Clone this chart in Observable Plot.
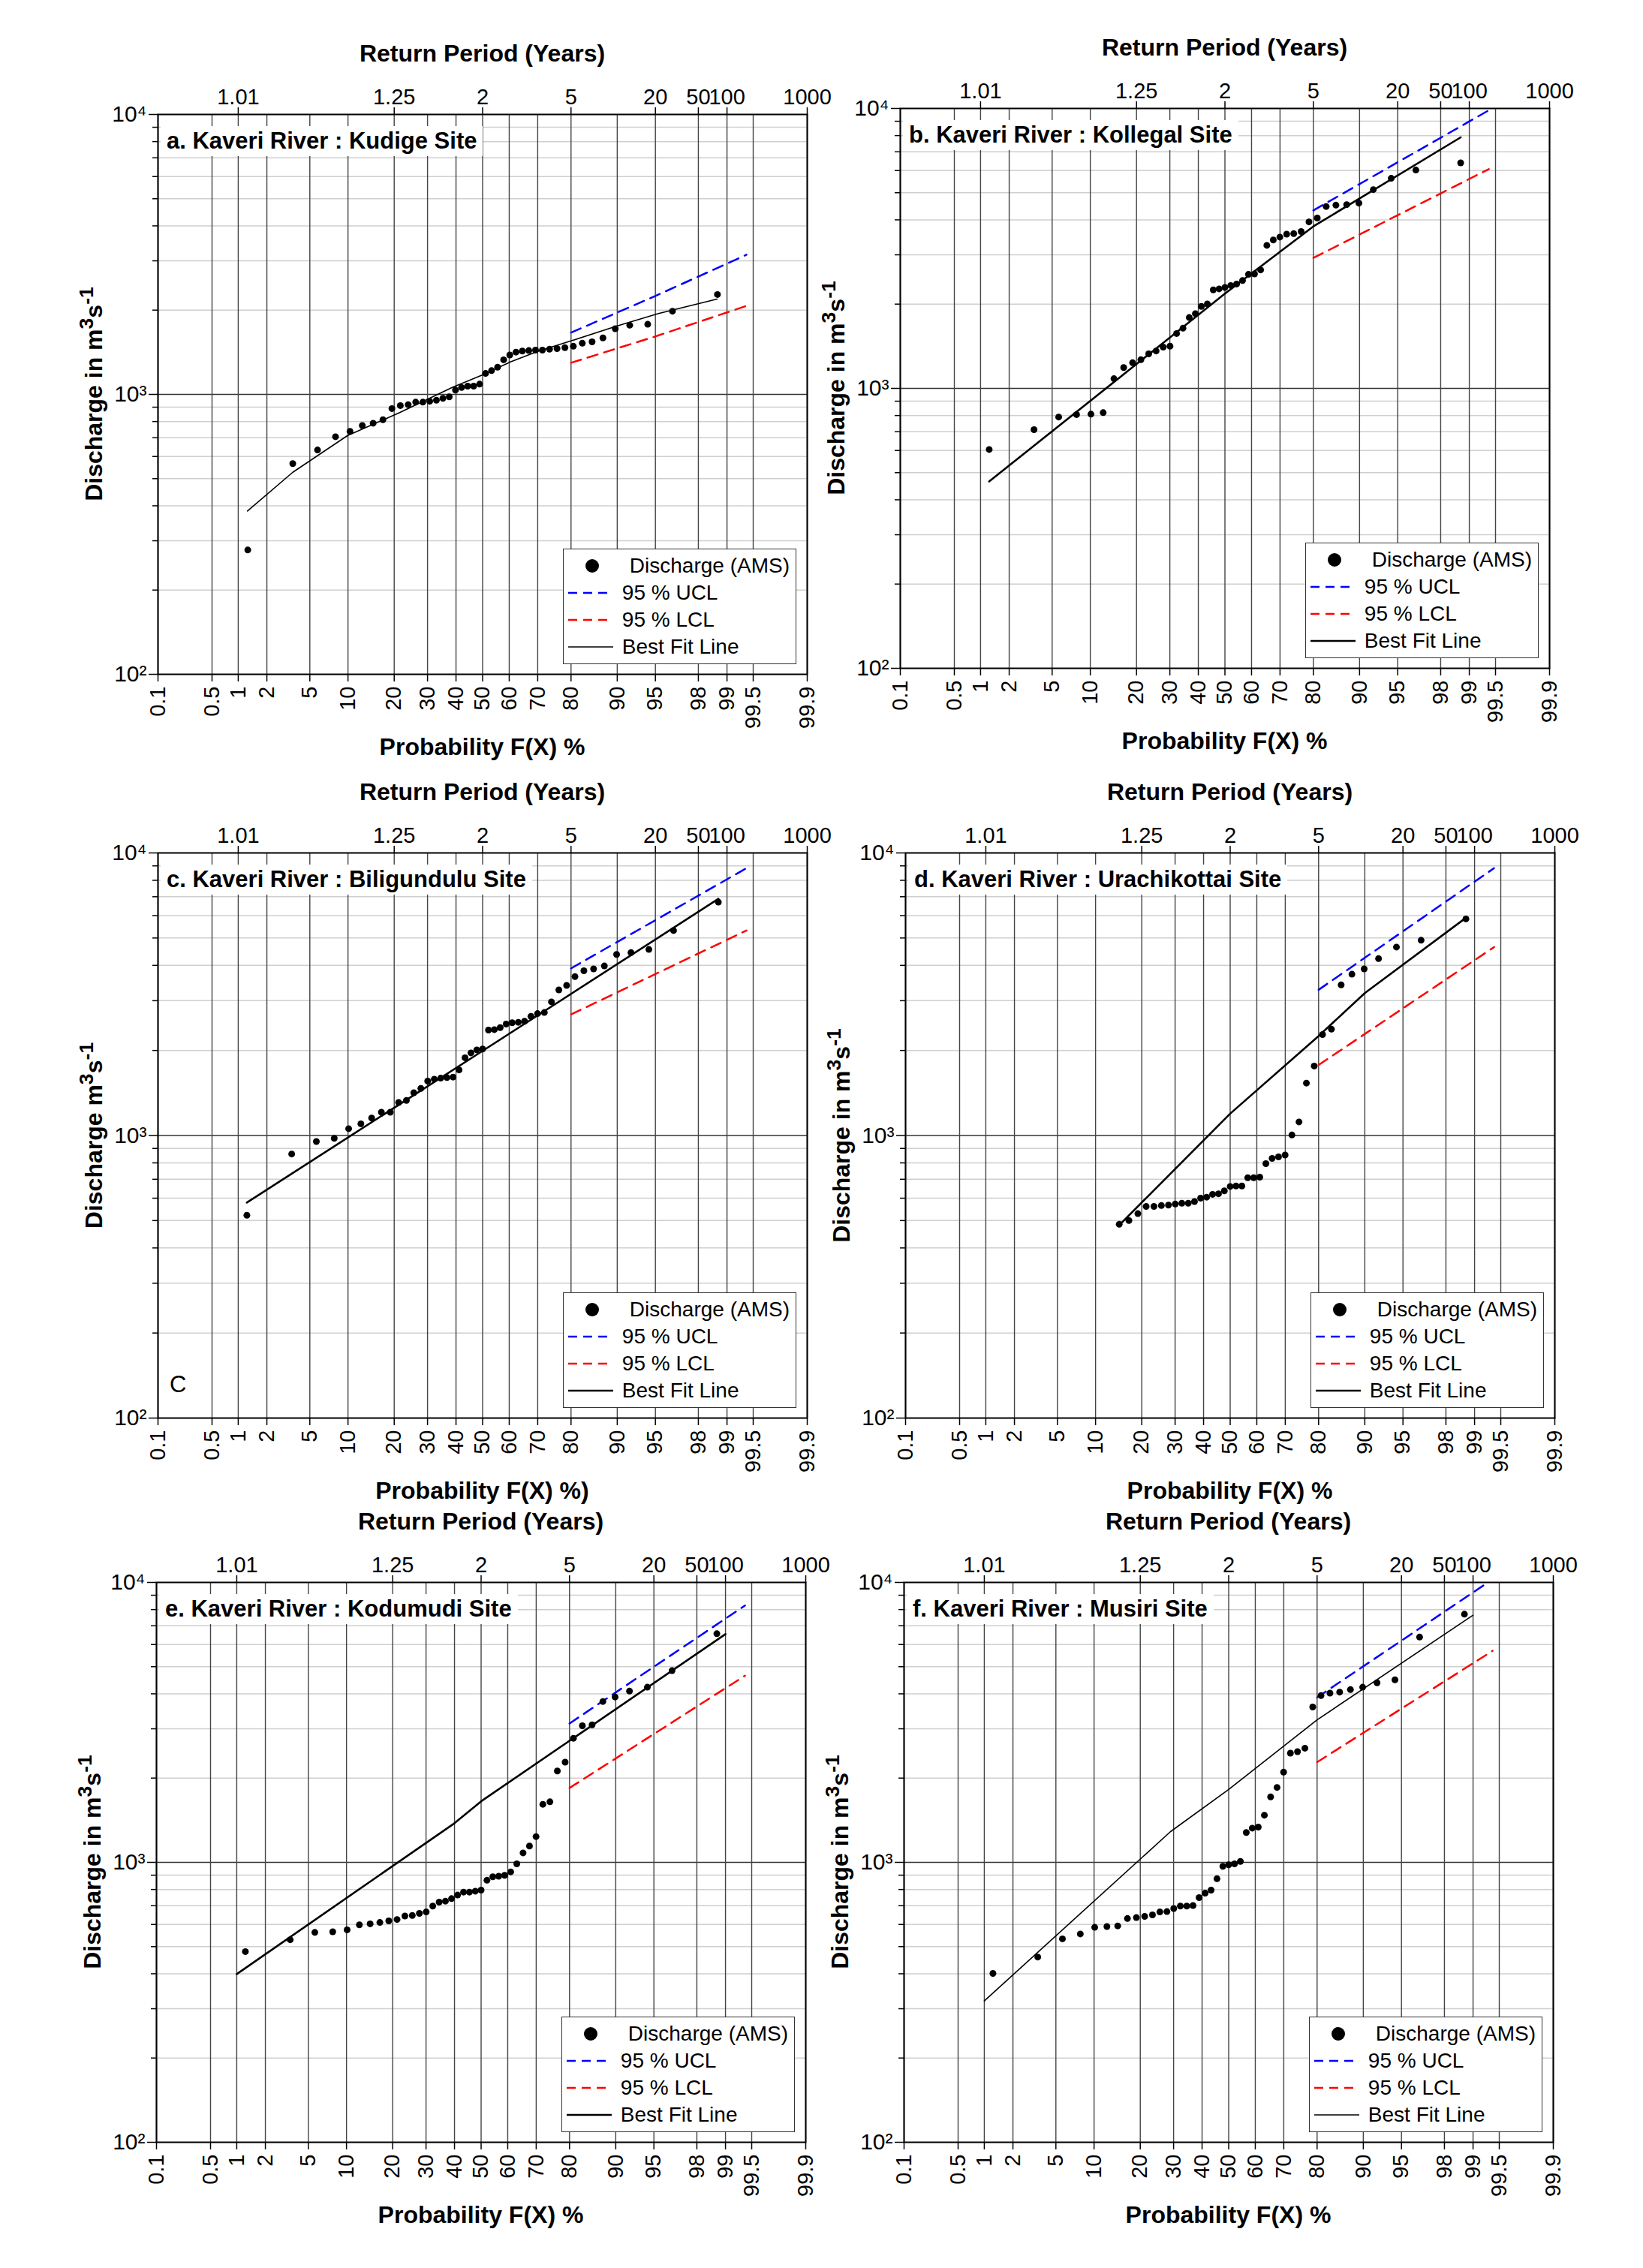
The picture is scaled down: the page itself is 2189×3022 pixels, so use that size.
<!DOCTYPE html>
<html><head><meta charset="utf-8">
<script src="https://cdn.jsdelivr.net/npm/d3@7"></script>
<script src="https://cdn.jsdelivr.net/npm/@observablehq/plot@0.6"></script>
<style>
body{margin:0;background:#fff;font-family:"Liberation Sans",Arial,sans-serif;}
#page{position:relative;width:2189px;height:3022px;overflow:hidden;background:#fff;}
.abs{position:absolute;white-space:nowrap;}
.ttl{font-weight:bold;font-size:32px;}
.ptitle{font-weight:bold;font-size:31px;background:#fff;padding:2px 8px;}
.legend{position:absolute;background:#fff;border:1.5px solid #333;font-size:28px;padding:4px 8px 4px 4px;white-space:nowrap;}
.legend .row{display:flex;align-items:center;height:36px;}
.legend svg{margin-right:10px;}
svg{overflow:visible;}
</style></head><body><div id="page"></div>
<script>
// ---------- data ----------
const probTicks=[0.1,0.5,1,2,5,10,20,30,40,50,60,70,80,90,95,98,99,99.5,99.9];
const probLabels=["0.1","0.5","1","2","5","10","20","30","40","50","60","70","80","90","95","98","99","99.5","99.9"];
const rpProb=[1,20,50,80,95,98,99,99.9];
const rpLabels=["1.01","1.25","2","5","20","50","100","1000"];
const yMajor=[100,1000,10000];
const yMajorLabels=["10²","10³","10⁴"];
const yMinor=[200,300,400,500,600,700,800,900,2000,3000,4000,5000,6000,7000,8000,9000];

const kudigeQ=[278,566,633,706,738,774,789,812,890,912,919,938,938,945,953,968,980,1036,1058,1070,1070,1088,1188,1216,1251,1329,1383,1416,1428,1434,1439,1439,1451,1457,1469,1486,1523,1541,1591,1716,1766,1780,1982,2274];
const kudigeFitP=[1.26,3.54,9.9,21.6,38.9,50,60.6,69.8,80.1,89.8,95.3,98.72];
const kudigeFitQ=[383,527,712,862,1062,1174,1308,1422,1554,1751,1944,2191];
const kudigeUclP=[80,95,99.4], kudigeUclQ=[1662,2247,3154];
const kudigeLclP=[80,95,99.4], kudigeLclQ=[1297,1611,2071];

const kollegalQ=[605,712,790,806,809,819,1083,1187,1235,1266,1328,1360,1404,1415,1570,1640,1791,1849,1963,2002,2249,2267,2294,2331,2360,2427,2554,2564,2650,3243,3390,3471,3555,3570,3633,3933,4061,4463,4515,4533,4590,5130,5630,6025,6394];
const kollegalFitP=[1.24,50,80,98.76], kollegalFitQ=[465,2180,3790,7885];
const kollegalUclP=[80,99.45], kollegalUclQ=[4323,10000];
const kollegalLclP=[80,99.4], kollegalLclQ=[2925,6074];

const biliQ=[522,860,952,977,1057,1100,1153,1209,1209,1309,1330,1417,1468,1558,1583,1596,1603,1610,1706,1884,1961,2009,2023,2361,2370,2409,2479,2506,2516,2537,2640,2700,2725,2972,3276,3397,3652,3828,3888,3982,4372,4438,4554,5314,6696];
const biliFitP=[1.24,50,98.76], biliFitQ=[579,1993,6878];
const biliUclP=[80,99.4], biliUclQ=[3904,8835];
const biliLclP=[80,99.4], biliLclQ=[2682,5317];

const urachiQ=[485,500,529,561,561,565,567,572,576,576,584,600,605,619,622,637,660,663,663,709,709,712,795,830,840,853,1004,1117,1533,1762,2277,2378,3412,3722,3887,4226,4644,4908,5841];
const urachiFirstRank=7;
const urachiFitP=[14.4,50,80,90,98.76], urachiFitQ=[479,1195,2250,3190,5897];
const urachiUclP=[80,99.4], urachiUclQ=[3278,8835];
const urachiLclP=[80,99.4], urachiLclQ=[1776,4644];

const koduQ=[480,529,562,565,574,598,603,610,618,625,643,646,657,665,698,721,727,742,764,783,783,789,796,863,888,892,899,925,988,1081,1144,1236,1612,1645,2120,2280,2775,3075,3100,3755,3897,4089,4225,4838,6557];
const koduFitP=[1,40,50,80,99], koduFitQ=[399,1380,1652,2718,6537];
const koduUclP=[80,99.4], koduUclQ=[3134,8272];
const koduLclP=[80,99.4], koduLclQ=[1844,4643];

const musiriQ=[401,459,533,555,586,590,593,630,635,641,649,665,667,684,698,698,701,748,776,796,874,968,980,988,1008,1278,1325,1337,1474,1714,1852,2101,2455,2486,2557,3590,3942,4023,4057,4141,4225,4380,4489,6378,7700];
const musiriFitP=[1,29,50,80,99], musiriFitQ=[320,1288,1822,3228,7637];
const musiriUclP=[80,99.32], musiriUclQ=[3883,10000];
const musiriLclP=[80,99.4], musiriLclQ=[2280,5697];

// ---------- helpers ----------
function probit(p){
 const a=[-39.69683028665376,220.9460984245205,-275.9285104469687,138.3577518672690,-30.66479806614716,2.506628274631000];
 const b=[-54.47609879822406,161.5858368580409,-155.6989798598866,66.80131188771972,-13.28068155288572];
 const c=[-0.007784894002430293,-0.3223964580411365,-2.400758277161838,-2.549732539343734,4.374664141464968,2.938163982698783];
 const d=[0.007784695709041462,0.3224671290700398,2.445134137142996,3.754408661907416];
 const pl=0.02425; let q,r;
 if(p<pl){q=Math.sqrt(-2*Math.log(p));return (((((c[0]*q+c[1])*q+c[2])*q+c[3])*q+c[4])*q+c[5])/((((d[0]*q+d[1])*q+d[2])*q+d[3])*q+1);}
 if(p<=1-pl){q=p-0.5;r=q*q;return (((((a[0]*r+a[1])*r+a[2])*r+a[3])*r+a[4])*r+a[5])*q/(((((b[0]*r+b[1])*r+b[2])*r+b[3])*r+b[4])*r+1);}
 q=Math.sqrt(-2*Math.log(1-p));return -(((((c[0]*q+c[1])*q+c[2])*q+c[3])*q+c[4])*q+c[5])/((((d[0]*q+d[1])*q+d[2])*q+d[3])*q+1);
}
const z=p=>probit(p/100);
const probZ=probTicks.map(z), rpZ=rpProb.map(z);
const labFor=(zs,labs)=>v=>{let bi=0,bd=1e9;zs.forEach((q,i)=>{const dd=Math.abs(q-v);if(dd<bd){bd=dd;bi=i;}});return labs[bi];};
const pts=(Q,first=1,n=null)=>{const N=n||Q.length+first-1;return Q.map((q,i)=>({z:z(100*((i+first)-0.44)/(N+0.12)),q}));};
const ser=(P,Q)=>P.map((p,i)=>({z:z(p),q:Q[i]}));

const panels=[
 {fl:210,ft:152,H:746,title:"a. Kaveri River : Kudige Site",ylab:"Discharge in m<sup>3</sup>s<sup>-1</sup>",xlab:"Probability F(X) %",
  pts:pts(kudigeQ),fit:ser(kudigeFitP,kudigeFitQ),ucl:ser(kudigeUclP,kudigeUclQ),lcl:ser(kudigeLclP,kudigeLclQ),fw:1.6},
 {fl:1199,ft:144,H:746,title:"b. Kaveri River : Kollegal Site",ylab:"Discharge in m<sup>3</sup>s<sup>-1</sup>",xlab:"Probability F(X) %",
  pts:pts(kollegalQ),fit:ser(kollegalFitP,kollegalFitQ),ucl:ser(kollegalUclP,kollegalUclQ),lcl:ser(kollegalLclP,kollegalLclQ),fw:2.6},
 {fl:210,ft:1136,H:753,title:"c. Kaveri River : Biligundulu Site",ylab:"Discharge m<sup>3</sup>s<sup>-1</sup>",xlab:"Probability F(X) %)",
  pts:pts(biliQ),fit:ser(biliFitP,biliFitQ),ucl:ser(biliUclP,biliUclQ),lcl:ser(biliLclP,biliLclQ),fw:2.6,c:true},
 {fl:1206,ft:1136,H:753,title:"d. Kaveri River : Urachikottai Site",ylab:"Discharge in m<sup>3</sup>s<sup>-1</sup>",xlab:"Probability F(X) %",
  pts:pts(urachiQ,urachiFirstRank,45),fit:ser(urachiFitP,urachiFitQ),ucl:ser(urachiUclP,urachiUclQ),lcl:ser(urachiLclP,urachiLclQ),fw:2.6},
 {fl:208,ft:2108,H:746,title:"e. Kaveri River : Kodumudi Site",ylab:"Discharge in m<sup>3</sup>s<sup>-1</sup>",xlab:"Probability F(X) %",
  pts:pts(koduQ),fit:ser(koduFitP,koduFitQ),ucl:ser(koduUclP,koduUclQ),lcl:ser(koduLclP,koduLclQ),fw:2.6},
 {fl:1204,ft:2108,H:746,title:"f. Kaveri River : Musiri Site",ylab:"Discharge in m<sup>3</sup>s<sup>-1</sup>",xlab:"Probability F(X) %",
  pts:pts(musiriQ),fit:ser(musiriFitP,musiriFitQ),ucl:ser(musiriUclP,musiriUclQ),lcl:ser(musiriLclP,musiriLclQ),fw:1.6}
];

const page=document.getElementById("page");
const W=865, ML=210, MR=20, MT=120, MB=140;
function add(html,css){const d=document.createElement("div");d.className="abs";d.innerHTML=html;Object.assign(d.style,css);page.appendChild(d);return d;}

for(const P of panels){
 const chart=Plot.plot({
  width:ML+W+MR,height:MT+P.H+MB,marginLeft:ML,marginRight:MR,marginTop:MT,marginBottom:MB,
  style:{fontSize:"29px",fontFamily:"'Liberation Sans',Arial,sans-serif",background:"transparent",overflow:"visible",color:"black"},
  x:{domain:[z(0.1),z(99.9)]},
  y:{type:"log",domain:[100,10000]},
  marks:[
   Plot.gridY(yMinor,{stroke:"#cfcfcf",strokeOpacity:1,strokeWidth:1.5}),
   Plot.gridY([1000],{stroke:"#333",strokeOpacity:1,strokeWidth:1.5}),
   Plot.gridX(probZ,{stroke:"#444",strokeOpacity:1,strokeWidth:1.4}),
   Plot.axisY(yMajor,{tickFormat:labFor(yMajor,yMajorLabels),tickSize:12,tickPadding:3,label:null,strokeWidth:1.5,fontSize:30}),
   Plot.axisY(yMinor,{tickFormat:()=>"",tickSize:7,label:null,strokeWidth:1.5}),
   Plot.axisX(probZ,{tickFormat:labFor(probZ,probLabels),tickRotate:-90,tickSize:10,tickPadding:6,label:null,strokeWidth:1.5,fontSize:29}),
   Plot.axisX(rpZ,{anchor:"top",tickFormat:labFor(rpZ,rpLabels),tickSize:10,tickPadding:4,label:null,strokeWidth:1.5,fontSize:29}),
   Plot.line(P.ucl,{x:"z",y:"q",stroke:"#0000ff",strokeWidth:2.5,strokeDasharray:"14,9"}),
   Plot.line(P.lcl,{x:"z",y:"q",stroke:"#ff0000",strokeWidth:2.5,strokeDasharray:"14,9"}),
   Plot.line(P.fit,{x:"z",y:"q",stroke:"black",strokeWidth:P.fw}),
   Plot.dot(P.pts,{x:"z",y:"q",r:4.5,fill:"black",stroke:"none"}),
   Plot.frame({stroke:"black",strokeWidth:2})
  ]
 });
 const holder=document.createElement("div");
 holder.className="abs";
 Object.assign(holder.style,{left:(P.fl-ML)+"px",top:(P.ft-MT)+"px"});
 holder.appendChild(chart);
 page.appendChild(holder);

 const cx=P.fl+W/2, fb=P.ft+P.H;
 add("Return Period (Years)",{left:cx+"px",top:(P.ft-81)+"px",transform:"translate(-50%,-50%)"}).classList.add("ttl");
 add(P.xlab,{left:cx+"px",top:(fb+97)+"px",transform:"translate(-50%,-50%)"}).classList.add("ttl");
 add(P.ylab,{left:(P.fl-88)+"px",top:(P.ft+P.H/2)+"px",transform:"translate(-50%,-50%) rotate(-90deg)"}).classList.add("ttl");
 add(P.title,{left:(P.fl+4)+"px",top:(P.ft+16)+"px"}).classList.add("ptitle");
 if(P.c) add("C",{left:(P.fl+16)+"px",top:(fb-62)+"px",fontSize:"31px"});

 const lg=document.createElement("div");
 lg.className="legend";
 const sw=(inner)=>`<svg width="64" height="28">${inner}</svg>`;
 lg.innerHTML=
  `<div class="row">${sw('<circle cx="34" cy="14" r="9" fill="black"/>')}<span style="margin-left:10px">Discharge (AMS)</span></div>`+
  `<div class="row">${sw('<line x1="2" x2="62" y1="14" y2="14" stroke="#0000ff" stroke-width="2.5" stroke-dasharray="12,8"/>')}95 % UCL</div>`+
  `<div class="row">${sw('<line x1="2" x2="62" y1="14" y2="14" stroke="#ff0000" stroke-width="2.5" stroke-dasharray="12,8"/>')}95 % LCL</div>`+
  `<div class="row">${sw(`<line x1="2" x2="62" y1="14" y2="14" stroke="black" stroke-width="${P.fw}"/>`)}Best Fit Line</div>`;
 Object.assign(lg.style,{right:(2189-(P.fl+W-14))+"px",bottom:(3022-(fb-13))+"px"});
 page.appendChild(lg);
}
</script></body></html>
